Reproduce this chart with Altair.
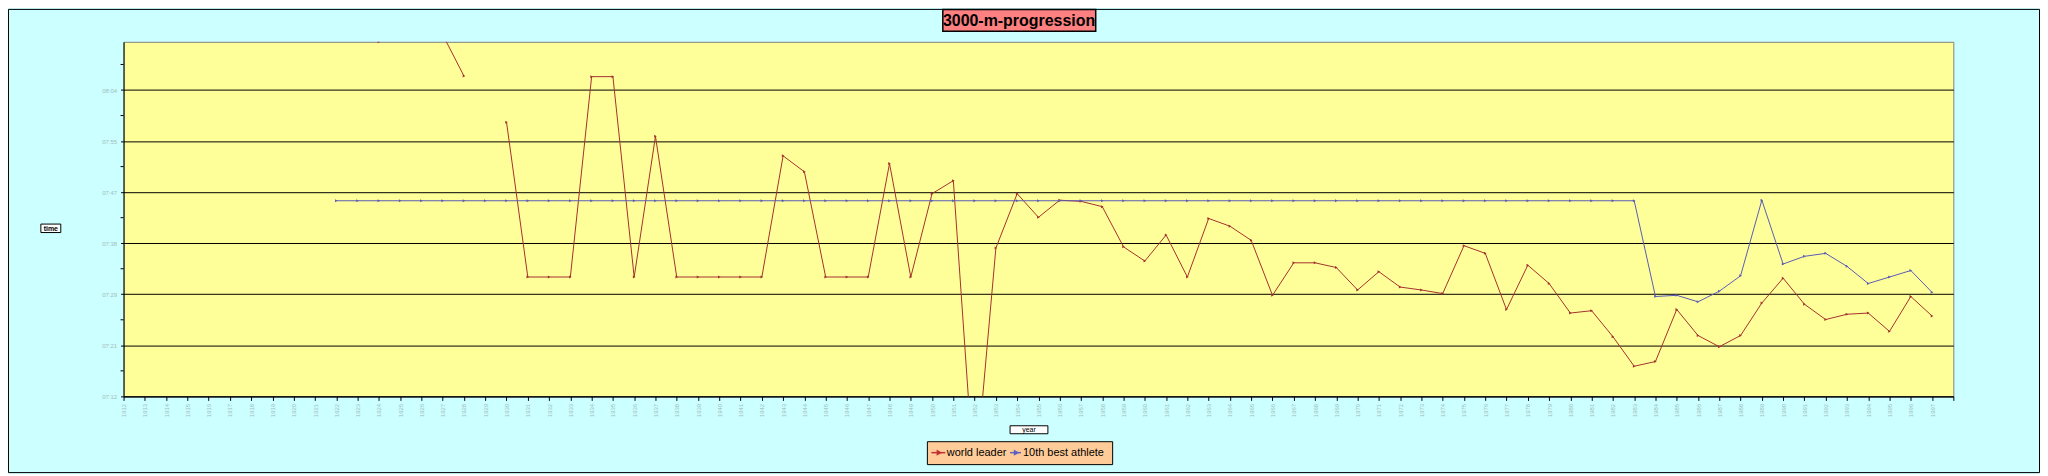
import altair as alt
import pandas as pd

years = [1912, 1913, 1914, 1915, 1916, 1917, 1918, 1919, 1920, 1921,
         1922, 1923, 1924, 1925, 1926, 1927, 1928, 1929, 1930, 1931,
         1932, 1933, 1934, 1935, 1936, 1937, 1938, 1939, 1940, 1941,
         1942, 1943, 1944, 1945, 1946, 1947, 1948, 1949, 1950, 1951,
         1952, 1953, 1954, 1955, 1956, 1957, 1958, 1959, 1960, 1961,
         1962, 1963, 1964, 1965, 1966, 1967, 1968, 1969, 1970, 1971,
         1972, 1973, 1974, 1975, 1976, 1977, 1978, 1979, 1980, 1981,
         1982, 1983, 1984, 1985, 1986, 1987, 1988, 1989, 1990, 1991,
         1992, 1993, 1994, 1995, 1996, 1997]
x_axis_end = 1998

# times in seconds
world_leader = [None, None, None, None, None, None, None, None, None, None,
                None, None, 492.0, None, None, 493.2, 486.2, None, 478.4, 452.2,
                452.2, 452.2, 486.1, 486.1, 452.2, 476.0, 452.2, 452.2, 452.2, 452.2,
                452.2, 472.7, 470.0, 452.2, 452.2, 452.2, 471.4, 452.2, 466.3, 468.5,
                416.6, 457.1, 466.3, 462.3, 465.2, 465.0, 464.1, 457.3, 454.9, 459.3,
                452.2, 462.1, 460.8, 458.4, 449.1, 454.6, 454.6, 453.8, 450.0, 453.1,
                450.5, 450.0, 449.4, 457.5, 456.2, 446.7, 454.2, 451.1, 446.1, 446.5,
                442.1, 437.1, 437.9, 446.7, 442.3, 440.4, 442.3, 447.8, 452.0, 447.6,
                445.0, 445.9, 446.1, 443.0, 448.9, 445.6]

tenth_best = [None, None, None, None, None, None, None, None, None, None,
              465.1, 465.1, 465.1, 465.1, 465.1, 465.1, 465.1, 465.1, 465.1, 465.1,
              465.1, 465.1, 465.1, 465.1, 465.1, 465.1, 465.1, 465.1, 465.1, 465.1,
              465.1, 465.1, 465.1, 465.1, 465.1, 465.1, 465.1, 465.1, 465.1, 465.1,
              465.1, 465.1, 465.1, 465.1, 465.1, 465.1, 465.1, 465.1, 465.1, 465.1,
              465.1, 465.1, 465.1, 465.1, 465.1, 465.1, 465.1, 465.1, 465.1, 465.1,
              465.1, 465.1, 465.1, 465.1, 465.1, 465.1, 465.1, 465.1, 465.1, 465.1,
              465.1, 465.1, 448.9, 449.1, 448.0, 449.8, 452.4, 465.2, 454.4, 455.7,
              456.2, 454.0, 451.1, 452.2, 453.3, 449.6]

y_tick_values = [432.0, 440.64, 449.28, 457.92, 466.56, 475.2, 483.84]
y_minor_values = [436.32, 444.96, 453.6, 462.24, 470.88, 479.52, 488.16]
y_domain = [432.0, 492.0]

series_names = ["world leader", "10th best athlete"]
series_colors = ["#a33030", "#5a5ab8"]
title_text = "3000-m-progression"
x_title = "year"
y_title = "time"

FONT = "Liberation Sans"

# ---- build long table, breaking paths at missing values ----
rows = []
seg = 0
for name, vals in zip(series_names, [world_leader, tenth_best]):
    prev_none = True
    for yr, v in zip(years, vals):
        if v is None:
            prev_none = True
            continue
        if prev_none:
            seg += 1
            prev_none = False
        rows.append({"year": yr, "time": v, "series": name, "seg": seg})
df = pd.DataFrame(rows)
minor_df = pd.DataFrame({"time": y_minor_values})
dummy = pd.DataFrame({"a": [0]})

W, H = 1837, 356
PAD = {"left": 116, "top": 33, "right": 87, "bottom": 77}

x_enc = alt.X("year:Q",
              scale=alt.Scale(domain=[years[0], x_axis_end], nice=False, zero=False),
              axis=alt.Axis(values=years + [x_axis_end], format="d",
                            labelExpr=f"datum.value >= {x_axis_end} ? '' : datum.label",
                            labelAngle=270, labelFontSize=6,
                            labelColor="#9fbcbc", labelFont=FONT, tickColor="black",
                            tickSize=4, domainColor="black", grid=False, title=None,
                            labelOverlap=False, labelFlush=False, labelPadding=3))
y_enc = alt.Y("time:Q",
              scale=alt.Scale(domain=y_domain, nice=False, zero=False),
              axis=alt.Axis(values=y_tick_values,
                            labelExpr="utcFormat(round(datum.value)*1000, '%M:%S')",
                            grid=True, gridColor="black", gridOpacity=1, gridWidth=1,
                            tickColor="black", tickSize=3, labelFontSize=6,
                            labelColor="#9fbcbc", labelFont=FONT, domainColor="black",
                            title=None, labelPadding=4))
color_enc = alt.Color("series:N",
                      scale=alt.Scale(domain=series_names, range=series_colors),
                      legend=None)

lines = alt.Chart(df).mark_line(strokeWidth=1, clip=True).encode(
    x=x_enc, y=y_enc, color=color_enc, detail="seg:N")
points = alt.Chart(df).mark_point(filled=True, shape="triangle-right", size=9,
                                  opacity=1, clip=True).encode(
    x=x_enc, y=y_enc, color=color_enc)
minor = alt.Chart(minor_df).mark_rule(color="black", strokeWidth=1).encode(
    y=y_enc, x=alt.value(-3), x2=alt.value(0))


def box(x1, x2, y1, y2, fill=None, stroke="black", sw=1):
    if fill is None:
        m = alt.Chart(dummy).mark_rect(fillOpacity=0, stroke=stroke, strokeWidth=sw)
    else:
        m = alt.Chart(dummy).mark_rect(fill=fill, stroke=stroke, strokeWidth=sw)
    return m.encode(x=alt.value(x1), x2=alt.value(x2), y=alt.value(y1), y2=alt.value(y2))


def label(txt, x, y, size, weight="normal", align="center"):
    return alt.Chart(dummy).mark_text(text=txt, fontSize=size, font=FONT,
                                      fontWeight=weight, align=align,
                                      baseline="middle", color="black").encode(
        x=alt.value(x), y=alt.value(y))


def legend_marker(x1, x2, y, color):
    r = alt.Chart(dummy).mark_rule(color=color, strokeWidth=1.5).encode(
        x=alt.value(x1), x2=alt.value(x2), y=alt.value(y))
    p = alt.Chart(dummy).mark_point(filled=True, shape="triangle-right", size=40,
                                    color=color, opacity=1).encode(
        x=alt.value((x1 + x2) / 2 + 1), y=alt.value(y))
    return r + p


outer = box(-PAD["left"] + 0.5, W + PAD["right"] - 0.5,
            -PAD["top"] + 0.5, H + PAD["bottom"] - 0.5, None, "black", 1)
tbox = box(822.5, 976, -32.5, -10.5, "#ff8080", "black", 1.5)
ttext = label(title_text, 899, -21, 16, "bold")
ybox = box(-83, -63, 183, 191.5, "white", "black", 1)
ytext = label(y_title, -73, 187.5, 7, "bold")
xbox = box(890, 928, 385.5, 393.5, "white", "black", 1)
xtext = label(x_title, 909, 389.5, 7)
lbox = box(807, 993, 401.5, 424.5, "#ffcc99", "black", 1)
lm1 = legend_marker(811, 825, 412.5, "#c03030")
lt1 = label(series_names[0], 826.5, 412.5, 11, align="left")
lm2 = legend_marker(890, 901, 412.5, "#6060c0")
lt2 = label(series_names[1], 903, 412.5, 11, align="left")

chart = alt.layer(
    outer, tbox, ttext, lines, points, minor, ybox, ytext, xbox, xtext,
    lbox, lm1, lt1, lm2, lt2
).properties(
    width=W, height=H,
    padding=PAD,
    autosize=alt.AutoSizeParams(type="none"),
    background="#ccffff",
).configure_view(
    fill="#ffff99", stroke="#808080", strokeWidth=1
)

chart.save("out.html", embed_options={"renderer": "svg", "actions": False})
